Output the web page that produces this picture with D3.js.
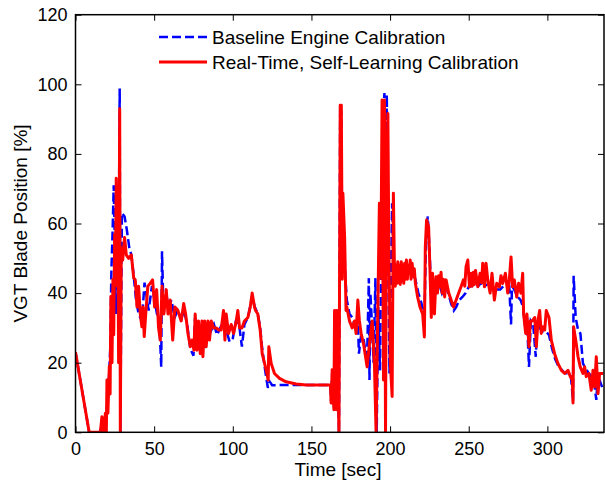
<!DOCTYPE html>
<html>
<head>
<meta charset="utf-8">
<script src="https://cdn.jsdelivr.net/npm/d3@7"></script>
<style>
  body { margin: 0; background: #fff; }
  svg { display: block; font-family: Arial, "Liberation Sans", sans-serif; }
</style>
</head>
<body>
<script>
// Data: [time (sec), VGT blade position (%)]
const baseline = [
  [0,23],[8.7,0],[15.8,0],[17,3],[18.5,1],[19.5,6],[20.6,9],[22.1,24],[22.8,46],[23.6,58],[24.3,71],[24.9,56],
  [25.7,34],[26.4,48],[27.4,46],[28.1,98.8],[28.5,0],[29.5,63],[31.2,62],[32.7,58],[34.2,53],[35.5,51],[37,45],
  [38.4,38.5],[40.1,34],[42.2,32],[43.9,43],[45.4,38.5],[46.5,35],[48.6,42],[50.3,38],[51.8,34],[53.3,32],
  [54.5,18.8],[55,52],[56,34],[57.7,40],[59,36],[61,38],[63,33],[65,35],[67.5,33],[69,35],[71,31],[73,24],
  [75,22],[76,33],[78,26],[80,30],[82,24],[84,31],[86,29],[88,31],[90,28],[92,30],[94,32],[96,29],[98,26],
  [100,27],[102,32],[104,31],[105.8,24.6],[107.4,31],[109.6,33],[111,36],[112.3,39],[114,36],[115.9,34],
  [117.4,30],[118.7,24],[120.2,19],[121.5,15],[122.3,12.8],[123.5,14.5],[125,13.5],[130,13.6],[140,13.6],
  [150,13.6],[162.1,13.6],[162.5,9],[163.2,17],[164.3,7],[164.7,34],[165.8,7],[166.2,34],[167.5,0],[168.3,94],
  [169,92],[169.6,50],[170.5,60],[171.5,45],[172.5,38],[174.2,34],[175.9,33],[177.4,31],[178.4,29],[179.5,32],
  [180.2,22.6],[181.6,28],[183.1,27],[184.4,23],[185.4,22],[186.5,44.3],[186.9,15],[187.5,40],[188.6,30],
  [189.5,20],[190.7,44.3],[191.5,0],[192.5,36],[193.6,17.8],[194.5,60],[195.5,90],[196.4,97.5],[197.1,20],
  [197.9,97],[198.6,60],[199.6,16.9],[200.4,40],[201.3,65.8],[202.2,45],[204,44],[206,46],[208,45],[210,47],
  [212,46],[214,47],[216,44],[218,40],[220,37],[221.8,32],[222.6,50],[223.4,60],[224,62],[225.3,50],[226.2,38],
  [227,44],[229,42],[231,43],[233,40],[235,42],[237,40],[238.8,37],[240.5,35],[242,36],[244,38],[246,38.9],
  [248,40],[250,41.8],[252,42],[254,43],[256,42],[258,43],[260,42],[262,42.5],[264,42.8],[266,42],[268,41],
  [270,41],[272,42],[274,42],[275.8,41.8],[276.9,31],[277.5,42],[279,41],[281,39],[283,38],[284.5,36],[286,30],
  [287,33],[288.3,18.8],[289.5,32],[291,31],[292.6,21.7],[293.5,31],[295,30],[297,29],[299,29],[301,28],
  [303,24],[305,21],[307,19],[309,18],[311,17],[313,17],[315,16],[316.3,9],[316.7,45],[318,33],[319.5,29.4],
  [321,28.4],[322.6,19.8],[324.7,18],[326.4,17],[328,16],[329.5,15],[331.1,9.3],[332.2,17],[333.2,15],[335.5,12.1]
];

const selfLearning = [
  [0,23],[8.7,0],[15.8,0],[16.8,4.5],[17.9,0],[19,5.5],[19.6,0],[20,15],[20.6,5.5],[21.5,19],[22,11],[22.5,39],
  [23.2,20],[23.8,44],[24.3,28],[24.9,57],[25.3,42],[25.9,73],[26.6,48],[27,58],[27.4,20],[28.1,93],[28.5,0],
  [29.1,53],[30,49.5],[31.2,56],[32.3,51],[33.8,50],[35.5,51],[37,44.4],[38,43.8],[39.1,36],[40.1,42],[41.2,34],
  [42.2,30.3],[42.9,36],[43.7,27.5],[44.8,35],[46,42],[47.5,42.8],[49,43.8],[50.3,36],[51.6,41],[52.8,30],
  [53.9,26.5],[55,42],[56.2,34],[57.7,41],[58.8,34],[60.2,38],[61.8,26.5],[63.2,36],[65.1,35],[67.2,32],
  [68.8,37],[70,34],[71.5,28.4],[73,24.6],[74.2,26.5],[75.3,23.6],[76.1,34],[77.2,23.6],[78.2,32],[79.3,22.6],
  [80.4,32],[81,21.7],[82.1,32],[83.1,24.6],[84.2,32],[85.2,26.5],[86.3,32],[87.8,30],[89.5,30],[91.2,29.4],
  [92.6,29.4],[94.1,35],[95,26.5],[95.8,34],[97.3,28.4],[99,31],[100.5,28.4],[102.2,32],[103.2,35],[104.3,30],
  [105.8,30],[107.4,32],[109.6,33],[111.1,36],[112.3,40],[113.8,36],[114.5,35],[115.9,34],[117.4,29.4],
  [118.7,22.6],[120.2,19.8],[121.7,16.9],[122.5,15],[122.9,24.6],[124.4,19.8],[126.5,16.9],[129.7,15.5],
  [133.9,14.5],[140.3,13.9],[146.6,13.6],[155.1,13.6],[162.1,13.6],[162.5,8.4],[163.2,18],[164.3,6.5],
  [164.7,35],[165.8,6.5],[166.2,35],[167.5,0],[168.3,94],[169,94],[169.6,44],[170,68.7],[171.1,56],[172,35],
  [172.5,36],[174.2,32],[175.9,30],[177.4,32],[178.4,28.4],[179.5,38],[180.5,32],[181.6,28.4],[183.1,25.5],
  [184.4,21.7],[185.4,18.8],[186.9,25.5],[188.6,32],[190.1,18.8],[191.1,0],[192.2,35],[193.2,65.8],[194.1,44.3],
  [194.9,95.5],[195.8,15],[196.4,95.5],[197.1,0],[197.7,67.7],[198.6,91.6],[199.2,53.3],[200.2,19.8],
  [201.3,10.3],[202.1,68.7],[202.8,46.6],[203.3,42],[203.8,48],[204.4,42.8],[204.9,49],[205.4,43],[205.9,48],
  [206.5,42.5],[207.1,49],[207.6,43.5],[208.2,48],[208.7,42.8],[209.3,48.6],[209.8,44],[210.4,49.5],[211,44],
  [211.6,48],[212.3,45.7],[212.8,49.5],[213.3,44],[214,48.6],[214.8,44.7],[215.4,47],[216.1,42.8],[217.5,38.9],
  [219,36],[220.7,34],[221.8,27.4],[222.4,53.3],[223.2,61],[224.5,59],[225.3,47.6],[226.2,33],[227,45.7],
  [228.2,34],[229.2,44.7],[230.1,40],[230.9,45],[231.6,41.8],[232.4,46],[233.1,40],[233.9,44],[234.7,38.9],
  [235.6,43.8],[237.3,40],[238.8,38],[240.3,36],[242,38],[243.6,40],[245.1,41.8],[246.6,43.8],[247.5,42],
  [248.3,47.6],[249.4,49.5],[250.5,41.8],[251.5,45.7],[252.2,42],[253,46],[253.6,42.5],[254.3,46.5],
  [255.8,41.8],[257.2,45.7],[258.2,43],[258.9,48.6],[260,41.8],[261,48.6],[262.1,43.8],[263.6,40],[264.8,45.7],
  [266.3,38],[267.8,42.8],[269.5,41.8],[270.5,45],[271.6,42.8],[273.3,45.7],[274.8,40],[275.8,43.8],
  [276.9,50.4],[277.9,41.8],[279,43.8],[280.5,38.9],[281.7,42.8],[283.2,40],[284.3,45.7],[284.9,34],
  [286.2,28.4],[287,34],[288.3,24.6],[289.2,32],[290.5,32],[292,33],[293,24.6],[294,32],[295.1,35],[296.1,28.4],
  [297.2,30.3],[298.3,29.4],[299.3,35],[301,33],[302.5,26.5],[304.6,22.6],[306.7,19.8],[308.9,17.8],[311,16.9],
  [313.1,17.8],[314.6,16],[315.9,15],[316.3,8.4],[316.7,30.3],[318,26.5],[319.5,21.7],[320.9,18.8],[322.6,16.9],
  [323.7,18.8],[324.7,16],[326.4,16.9],[327.9,12.1],[329,17.8],[330,13],[331.1,21.7],[332.2,11.1],[333.2,16.9],
  [335.5,16.9]
];

const seriesNames = ["Baseline Engine Calibration", "Real-Time, Self-Learning Calibration"];
const xTicks = [0, 50, 100, 150, 200, 250, 300];
const yTicks = [0, 20, 40, 60, 80, 100, 120];

const width = 605, height = 485;
const margin = {left: 75.5, right: 1, top: 14.7, bottom: 52.7};

const svg = d3.select("body").append("svg")
  .attr("width", width)
  .attr("height", height);

const x = d3.scaleLinear().domain([0, 336]).range([margin.left, width - margin.right]);
const y = d3.scaleLinear().domain([0, 120]).range([height - margin.bottom, margin.top]);

svg.append("clipPath").attr("id", "plot-clip")
  .append("rect")
  .attr("x", x(0)).attr("y", y(120))
  .attr("width", x(336) - x(0)).attr("height", y(0) - y(120));

const line = d3.line().x(d => x(d[0])).y(d => y(d[1]));

const plot = svg.append("g").attr("clip-path", "url(#plot-clip)");

// baseline (blue dashed) first, real-time calibration over it
plot.append("path")
  .datum(baseline)
  .attr("d", line)
  .attr("fill", "none")
  .attr("stroke", "#0000ff")
  .attr("stroke-width", 2.5)
  .attr("stroke-dasharray", "9,4");

plot.append("path")
  .datum(selfLearning)
  .attr("d", line)
  .attr("fill", "none")
  .attr("stroke", "#ff0000")
  .attr("stroke-width", 3)
  .attr("stroke-linejoin", "round");

// axes (MATLAB style box with inward ticks)
const tickLen = 6;
const axisFont = "18px";

svg.append("g")
  .attr("transform", `translate(0,${y(0)})`)
  .call(d3.axisBottom(x).tickValues(xTicks).tickSize(-tickLen).tickPadding(10))
  .call(g => g.select(".domain").remove());

svg.append("g")
  .attr("transform", `translate(0,${y(120)})`)
  .call(d3.axisTop(x).tickValues(xTicks).tickSize(-tickLen).tickFormat(""))
  .call(g => g.select(".domain").remove());

svg.append("g")
  .attr("transform", `translate(${x(0)},0)`)
  .call(d3.axisLeft(y).tickValues(yTicks).tickSize(-tickLen).tickPadding(8))
  .call(g => g.select(".domain").remove());

svg.append("g")
  .attr("transform", `translate(${x(336)},0)`)
  .call(d3.axisRight(y).tickValues(yTicks).tickSize(-tickLen).tickFormat(""))
  .call(g => g.select(".domain").remove());

svg.selectAll(".tick line").attr("stroke", "#000");
svg.selectAll(".tick text")
  .attr("fill", "#000")
  .style("font-size", axisFont)
  .style("font-family", "Arial, 'Liberation Sans', sans-serif");

svg.append("rect")
  .attr("x", x(0)).attr("y", y(120))
  .attr("width", x(336) - x(0)).attr("height", y(0) - y(120))
  .attr("fill", "none")
  .attr("stroke", "#000")
  .attr("stroke-width", 1.5);

// axis labels
svg.append("text")
  .attr("x", 338).attr("y", 476)
  .attr("text-anchor", "middle")
  .style("font-size", "19px")
  .text("Time [sec]");

svg.append("text")
  .attr("transform", `translate(27,${(y(0) + y(120)) / 2}) rotate(-90)`)
  .attr("text-anchor", "middle")
  .style("font-size", "19px")
  .text("VGT Blade Position [%]");

// legend
const legend = svg.append("g");
const legendRows = [
  {name: seriesNames[0], color: "#0000ff", dash: "9,4", w: 2.5, yPos: 37},
  {name: seriesNames[1], color: "#ff0000", dash: null, w: 3, yPos: 62}
];
legendRows.forEach(r => {
  legend.append("line")
    .attr("x1", 159).attr("x2", 207)
    .attr("y1", r.yPos).attr("y2", r.yPos)
    .attr("stroke", r.color)
    .attr("stroke-width", r.w)
    .attr("stroke-dasharray", r.dash);
  legend.append("text")
    .attr("x", 212).attr("y", r.yPos + 6.5)
    .style("font-size", "19px")
    .text(r.name);
});
</script>
</body>
</html>
